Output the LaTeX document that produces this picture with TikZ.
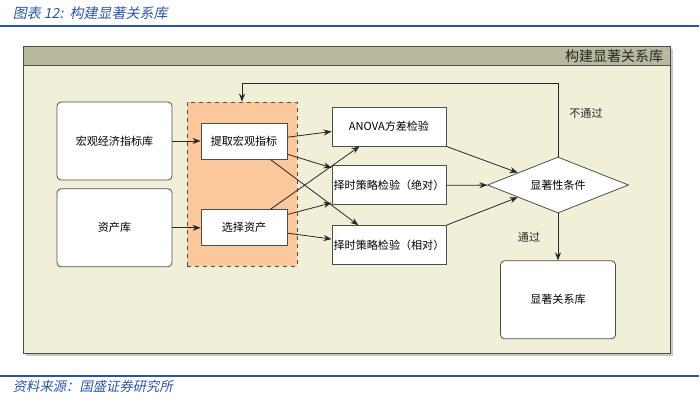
\documentclass[tikz,border=0pt]{standalone}
\usepackage{fontspec}
\setmainfont{Noto Sans CJK SC}
\newfontfamily\capfont[FakeSlant=0.2]{Noto Sans CJK SC}
\usepackage{xcolor}
\usepackage{tikz}
\usetikzlibrary{positioning}
\usetikzlibrary{arrows}
\usetikzlibrary{arrows.meta}
\usetikzlibrary{shapes,calc}
\definecolor{capblue}{HTML}{2B55A4}
\definecolor{cream}{HTML}{F2EFD9}
\definecolor{bandgray}{HTML}{B9B99E}
\definecolor{stepfill}{HTML}{FCC79B}
\definecolor{edgegray}{HTML}{4D4D4D}
\tikzset{lib node/.style={rectangle,rounded corners=3pt,draw=edgegray,fill=white,minimum width=86.25pt,minimum height=58.5pt,inner sep=1pt,font=\fontsize{8.3}{10}\selectfont},
	step node/.style={rectangle,draw=edgegray,fill=white,minimum width=64.5pt,minimum height=27pt,inner sep=1pt,font=\fontsize{8.3}{10}\selectfont},
	test node/.style={rectangle,draw=edgegray,fill=white,minimum width=85.5pt,minimum height=29.25pt,inner sep=1pt,font=\fontsize{8.3}{10}\selectfont},
	cond node/.style={diamond,aspect=2.5,draw=edgegray,fill=white,minimum width=105.75pt,minimum height=42pt,inner sep=0pt,font=\fontsize{8.3}{10}\selectfont},
	group node/.style={rectangle,draw=edgegray,dashed,fill=stepfill,minimum width=82.5pt,minimum height=123pt},
	note/.style={font=\fontsize{8.3}{10}\selectfont,text=black!85},}

\begin{document}
\begin{tikzpicture}[>={Stealth[length=6pt,width=4.5pt]}, semithick, x=0.75pt, y=-0.75pt]
	\useasboundingbox (0,0) rectangle (700,401);
	% caption and frame
	\node[anchor=west, text=capblue, font=\capfont\fontsize{10.5}{12}\selectfont] (cap) at (8,13) {图表 12:~~构建显著关系库};
	\draw[capblue, line width=1.5pt] (0,26) -- (699,26);
	\fill[black!22] (26,49) rectangle (673,356);
	\draw[edgegray, fill=cream] (23,46) rectangle (670,353);
	\draw[edgegray, fill=bandgray] (23,46) rectangle (670,65);
	\node[anchor=east, font=\fontsize{10.5}{12}\selectfont, text=black!85] (frametitle) at (668,56) {构建显著关系库};

	\node[lib node] (libmacro) at (114.5,141) {宏观经济指标库};
	\node[lib node] (libasset) [below = 6pt of libmacro] {资产库};
	\node[group node] (group) at (242,184) {};
	\node[step node] (extract) at (244,141) {提取宏观指标};
	\node[step node] (select) [below = 37.5pt of extract] {选择资产};
	\node[test node] (anova) at (389,126.5) {ANOVA方差检验};
	\node[test node] (absol) [below = 14.25pt of anova] {择时策略检验（绝对）};
	\node[test node] (relat) [below = 15pt of absol] {择时策略检验（相对）};
	\node[cond node] (sig) at (558,185) {显著性条件};
	\node[lib node] (sigdb) [below = 35.25pt of sig] {显著关系库};
	\node[note] (nopass) at (586,113) {不通过};
	\node[note] (pass) at (529,237) {通过};

	\path[->,black!85]
	(libmacro) edge (extract)
	(libasset) edge (select)
	(extract.5) edge (anova.185)
	(extract.-17) edge (absol.163)
	(extract.-35) edge (relat.147)
	(select.35) edge (anova.214)
	(select.17) edge (absol.197)
	(select.-7) edge (relat.174)
	(anova.south east) edge (sig.163)
	(absol) edge (sig)
	(relat.north east) edge (sig.197)
	(sig) edge (sigdb);
	\draw[->,black!85] (sig.north) |- ($(group.north)+(0,-18)$) -| (group.north);
	% source
	\draw[capblue, line width=1.2pt] (0,376) -- (699,376);
	\node[anchor=west, text=capblue, font=\capfont\fontsize{10}{12}\selectfont] (source) at (8,386) {资料来源：国盛证券研究所};
\end{tikzpicture}
\end{document}
